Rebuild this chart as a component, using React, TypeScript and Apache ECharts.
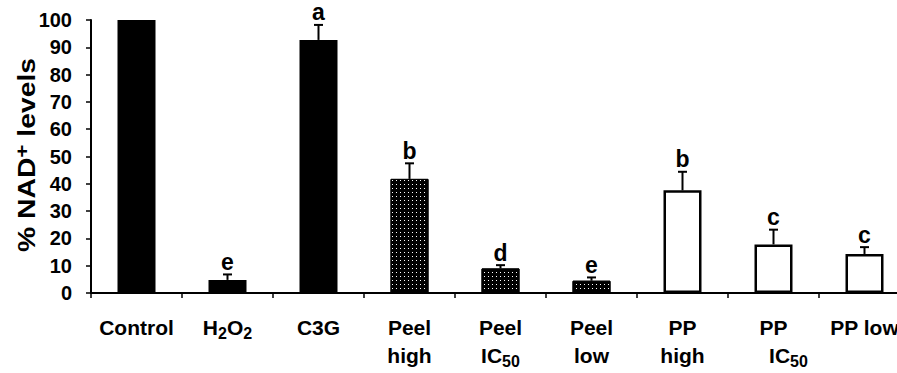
import React, { useEffect, useRef } from "react";
import * as echarts from "echarts";

const categories = [
  "Control",
  "H{sub|2}O{sub|2}",
  "C3G",
  "Peel\nhigh",
  "Peel\nIC{sub|50}",
  "Peel\nlow",
  "PP\nhigh",
  "PP\n{gap|}IC{sub|50}",
  "PP low",
];
const means = [100, 4.8, 92.7, 41.8, 9.0, 4.5, 37.6, 17.8, 14.3];
const errors = [0, 2.0, 5.5, 5.7, 1.2, 1.2, 6.8, 5.4, 2.5];
const letters = ["", "e", "a", "b", "d", "e", "b", "c", "c"];
const groups = ["solid", "solid", "solid", "dot", "dot", "dot", "open", "open", "open"];
const yTicks = { min: 0, max: 100, interval: 10 };
const yTitle = "% NAD{sup|+} levels";

const FONT = "'Liberation Sans', Arial, Helvetica, sans-serif";

export default function App() {
  const ref = useRef<HTMLDivElement>(null);
  useEffect(() => {
    if (!ref.current) return;
    const chart = echarts.init(ref.current, null, { renderer: "svg" });
    const barData = means.map((v, i) => {
      const g = groups[i];
      let itemStyle: any;
      if (g === "solid") itemStyle = { color: "#000" };
      else if (g === "dot")
        itemStyle = {
          color: "#000",
          borderColor: "#000",
          borderWidth: 1,
          decal: {
            symbol: "rect",
            symbolSize: 1,
            color: "#ffffff",
            backgroundColor: "#000",
            dashArrayX: [1, 3],
            dashArrayY: [1, 3],
            rotation: 0,
          },
        };
      else itemStyle = { color: "#fff", borderColor: "#000", borderWidth: 2.5 };
      return { value: v, itemStyle };
    });
    const errData = means.map((v, i) => [i, v, errors[i]]);
    chart.setOption({
      animation: false,
      grid: { left: 91, right: 0, top: 20, bottom: 80, containLabel: false, outerBoundsMode: "none" },
      graphic: [
        {
          type: "text",
          x: 27,
          y: 155,
          rotation: Math.PI / 2,
          scaleX: 1.18,
          style: {
            text: yTitle,
            fill: "#000",
            fontFamily: FONT,
            fontWeight: "bold",
            fontSize: 24,
            align: "center",
            verticalAlign: "middle",
            rich: {
              sup: {
                fontFamily: FONT,
                fontWeight: "bold",
                fontSize: 19,
                fill: "#000",
                verticalAlign: "top",
                padding: [0, 0, 12, 0],
              },
            },
          },
        },
      ],
      xAxis: {
        type: "category",
        data: categories,
        axisLine: { show: true, lineStyle: { color: "#000", width: 2 } },
        axisTick: { show: true, alignWithLabel: false, length: 5, lineStyle: { color: "#000", width: 1.5 } },
        axisLabel: {
          color: "#000",
          fontFamily: FONT,
          fontWeight: "bold",
          fontSize: 21,
          lineHeight: 28,
          margin: 20,
          interval: 0,
          hideOverlap: false,
          rich: {
            sub: {
              fontFamily: FONT,
              fontWeight: "bold",
              fontSize: 16,
              color: "#000",
              verticalAlign: "bottom",
              padding: [10, 0, 0, 0],
            },
            gap: { width: 30 },
          },
        },
      },
      yAxis: {
        type: "value",
        min: yTicks.min,
        max: yTicks.max,
        interval: yTicks.interval,
        splitLine: { show: false },
        axisLine: { show: true, lineStyle: { color: "#000", width: 2 } },
        axisTick: { show: true, length: 5, lineStyle: { color: "#000", width: 1.5 } },
        axisLabel: {
          color: "#000",
          fontFamily: FONT,
          fontWeight: "bold",
          fontSize: 20,
          margin: 19,
        },
      },
      series: [
        {
          type: "bar",
          data: barData,
          barWidth: 38,
          z: 2,
        },
        {
          type: "custom",
          data: errData,
          encode: { x: 0, y: 1 },
          z: 3,
          renderItem: (params: any, api: any) => {
            const i = api.value(0);
            const v = api.value(1);
            const e = api.value(2);
            const base = api.coord([i, v]);
            const top = api.coord([i, v + e]);
            const children: any[] = [];
            if (e > 0) {
              children.push({
                type: "line",
                shape: { x1: base[0], y1: base[1], x2: top[0], y2: top[1] },
                style: { stroke: "#000", lineWidth: 2 },
              });
              children.push({
                type: "line",
                shape: { x1: top[0] - 4.5, y1: top[1], x2: top[0] + 4.5, y2: top[1] },
                style: { stroke: "#000", lineWidth: 2 },
              });
            }
            const letter = letters[params.dataIndex];
            if (letter) {
              children.push({
                type: "text",
                x: top[0],
                y: top[1] - 1,
                style: {
                  text: letter,
                  fontSize: 23,
                  fontWeight: "bold",
                  fontFamily: FONT,
                  fill: "#000",
                  align: "center",
                  verticalAlign: "bottom",
                },
              });
            }
            return { type: "group", children };
          },
        },
      ],
    });
    return () => chart.dispose();
  }, []);
  return (
    <div
      style={{
        position: "fixed",
        left: 0,
        top: 0,
        width: 897,
        height: 373,
        overflow: "hidden",
        background: "#fff",
      }}
    >
      <div ref={ref} style={{ width: 910, height: 373 }} />
    </div>
  );
}
